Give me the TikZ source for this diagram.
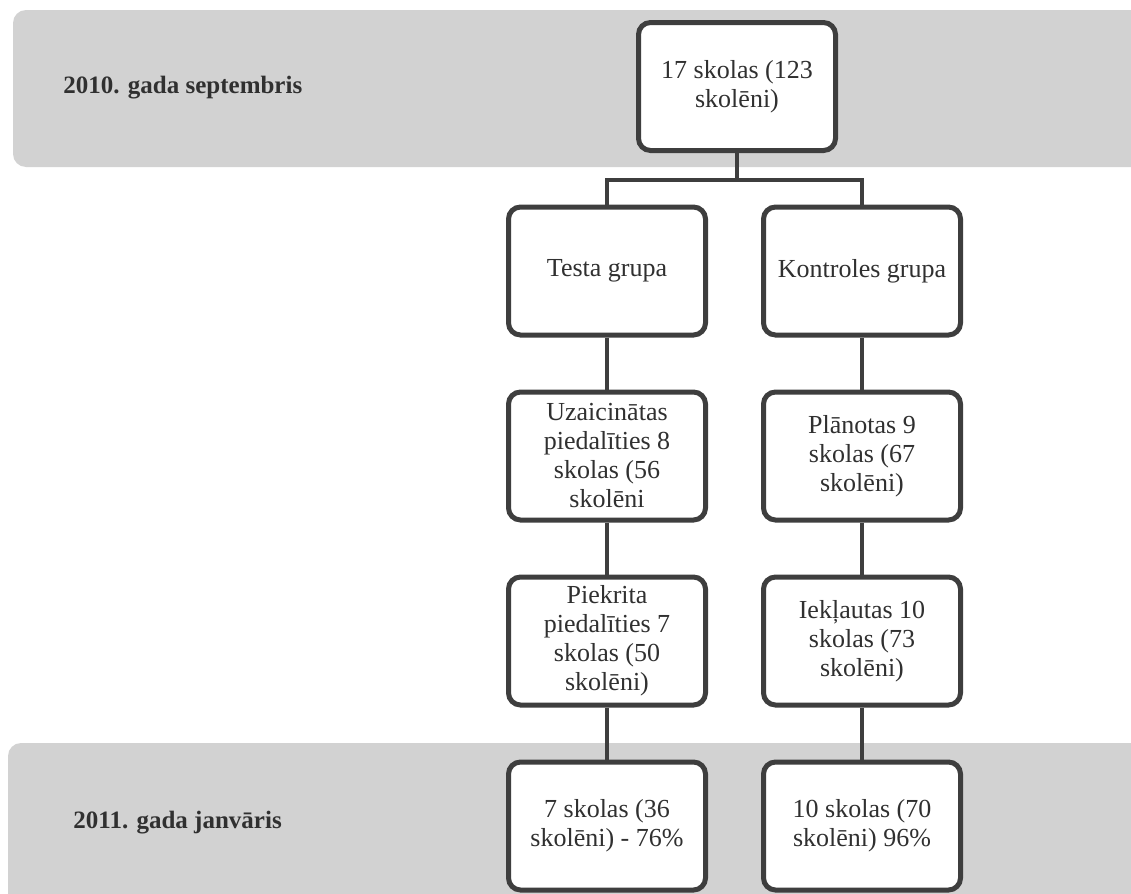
\documentclass[tikz,border=0pt]{standalone}
\usepackage{fontspec}
\setmainfont{Liberation Serif}
\usepackage{xcolor}
\usetikzlibrary{positioning}
\definecolor{fledge}{RGB}{62,62,62}
\definecolor{fltext}{RGB}{48,48,48}
\definecolor{flband}{RGB}{210,210,210}
\tikzset{
  stagebox/.style={
    draw=fledge, line width=2.5pt, rounded corners=6pt, fill=white,
    align=center, inner sep=2pt, text=fltext,
    minimum width=98.5pt, minimum height=64pt,
    font=\fontsize{13}{14.5}\selectfont
  },
  band/.style={fill=flband, rounded corners=6.5pt},
  link/.style={draw=fledge, line width=2pt},
  datelbl/.style={font=\fontsize{12.5}{15}\selectfont\bfseries, text=fltext, anchor=west, inner sep=0pt}
}

\begin{document}
\begin{tikzpicture}[x=0.5pt, y=-0.5pt, node distance=26pt]
  \useasboundingbox (0,0) rectangle (1131,894);
  \clip (0,0) rectangle (1131,894);
  \fill[band] (13,10) rectangle (1170,167);
  \fill[band] (8,743) rectangle (1170,930);
  \node[datelbl] (sept) at (63,88) {2010. gada septembris};
  \node[datelbl] (jan) at (73,823) {2011. gada janvāris};
  \node[stagebox] (all) at (737,86.5) {17 skolas (123\\skolēni)};
  \node[stagebox] (test) at (607,271) {Testa grupa};
  \node[stagebox] (ctrl) at (862,271) {Kontroles grupa};
  \node[stagebox, below=of test] (invited) {Uzaicinātas\\piedalīties 8\\skolas (56\\skolēni};
  \node[stagebox, below=of invited] (agreed) {Piekrita\\piedalīties 7\\skolas (50\\skolēni)};
  \node[stagebox, below=of agreed] (testend) {7 skolas (36\\skolēni) - 76\%};
  \node[stagebox, below=of ctrl] (planned) {Plānotas 9\\skolas (67\\skolēni)};
  \node[stagebox, below=of planned] (included) {Iekļautas 10\\skolas (73\\skolēni)};
  \node[stagebox, below=of included] (ctrlend) {10 skolas (70\\skolēni) 96\%};
  \draw[link] (all.south) -- ++(0,27) coordinate (fork);
  \draw[link] (test.north) |- (fork) -| (ctrl.north);
  \draw[link] (test) -- (invited);
  \draw[link] (invited) -- (agreed);
  \draw[link] (agreed) -- (testend);
  \draw[link] (ctrl) -- (planned);
  \draw[link] (planned) -- (included);
  \draw[link] (included) -- (ctrlend);
\end{tikzpicture}
\end{document}
